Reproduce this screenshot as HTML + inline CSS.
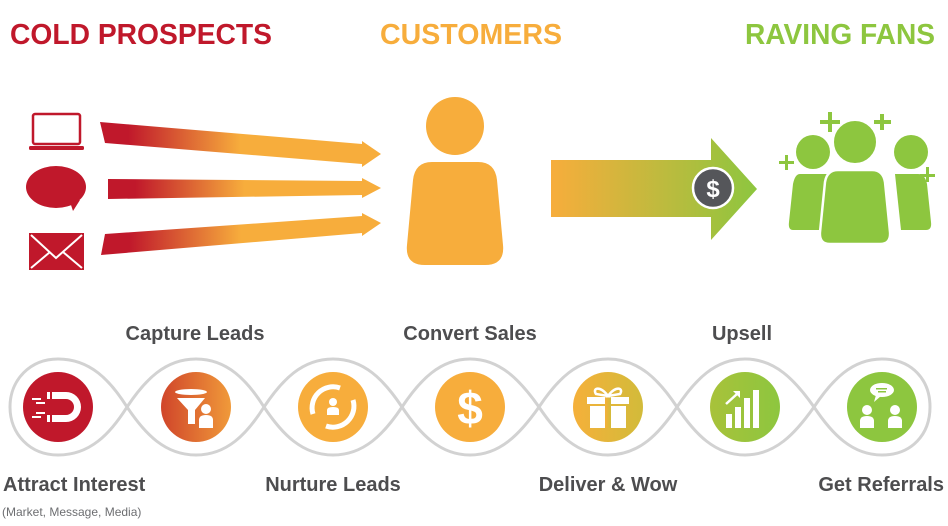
<!DOCTYPE html>
<html><head><meta charset="utf-8"><style>
html,body{margin:0;padding:0;background:#fff;}
svg{display:block;}
text{font-family:"Liberation Sans",Arial,sans-serif;font-weight:bold;}
</style></head><body>
<svg width="948" height="526" viewBox="0 0 948 526" xmlns="http://www.w3.org/2000/svg">
<defs>
<linearGradient id="ar" x1="0" x2="1" y1="0" y2="0">
<stop offset="0" stop-color="#c0182b"/><stop offset="0.1" stop-color="#c0182b"/><stop offset="0.5" stop-color="#f7ad3c"/><stop offset="1" stop-color="#f7ad3c"/></linearGradient>
<linearGradient id="big" x1="551" x2="757" y1="0" y2="0" gradientUnits="userSpaceOnUse">
<stop offset="0" stop-color="#f7ad3c"/><stop offset="1" stop-color="#8dc63f"/></linearGradient>
<linearGradient id="c2" x1="0" x2="1"><stop offset="0" stop-color="#d0452a"/><stop offset="1" stop-color="#f09a3a"/></linearGradient>
<linearGradient id="c5" x1="0" x2="1"><stop offset="0" stop-color="#f5b03a"/><stop offset="1" stop-color="#d2bb3a"/></linearGradient>
<linearGradient id="c6" x1="0" x2="1"><stop offset="0" stop-color="#a8c23a"/><stop offset="1" stop-color="#8dc63f"/></linearGradient>
</defs>

<text x="10" y="44" font-size="29" fill="#c0182b" textLength="262" lengthAdjust="spacingAndGlyphs">COLD PROSPECTS</text>
<text x="380" y="44" font-size="29" fill="#f7ad3c" textLength="182" lengthAdjust="spacingAndGlyphs">CUSTOMERS</text>
<text x="745" y="44" font-size="29" fill="#8dc63f" textLength="190" lengthAdjust="spacingAndGlyphs">RAVING FANS</text>

<rect x="33" y="114" width="47" height="30" rx="2" fill="none" stroke="#c0182b" stroke-width="2.5"/>
<rect x="29" y="146" width="55" height="4" rx="1.5" fill="#c0182b"/>
<ellipse cx="56" cy="187" rx="30" ry="21" fill="#c0182b"/>
<path d="M70 202 L80 200 L73 211 Z" fill="#c0182b"/>
<rect x="29" y="233" width="55" height="37" fill="#c0182b"/>
<path d="M31 235 L56 258 L82 235 M31 268 L50 252 M82 268 L63 252" fill="none" stroke="#fff" stroke-width="2"/>

<path d="M100 122 L362 144 L362 141 L381 154 L362 167 L362 164 L105 143 Z" fill="url(#ar)"/>
<path d="M108 179 L362 181 L362 178 L381 188 L362 198 L362 195 L108 199 Z" fill="url(#ar)"/>
<path d="M105 234 L362 216 L362 213 L381 223 L362 236 L362 233 L101 255 Z" fill="url(#ar)"/>

<circle cx="455" cy="126" r="29" fill="#f7ad3c"/>
<path d="M432 162 L478 162 Q495 162 497 180 L503 245 Q505 265 485 265 L425 265 Q405 265 407 245 L413 180 Q415 162 432 162 Z" fill="#f7ad3c"/>

<path d="M551 160 L711 160 L711 138 L757 189 L711 240 L711 217 L551 217 Z" fill="url(#big)"/>
<circle cx="713" cy="188" r="20" fill="#55565a" stroke="#fff" stroke-width="2.5"/>
<text x="713" y="197" font-size="24" fill="#fff" text-anchor="middle">$</text>

<g fill="#8dc63f">
<circle cx="813" cy="152" r="17"/>
<circle cx="911" cy="152" r="17"/>
<path d="M800 174 L828 174 L822 230 L793 230 Q788 230 789 222 L793 184 Q795 174 800 174 Z"/>
<path d="M895 174 L918 174 Q925 174 927 184 L931 222 Q932 230 926 230 L901 230 Z"/>
<circle cx="855" cy="142" r="22" fill="#8dc63f" stroke="#fff" stroke-width="2"/>
<path d="M838 170 L872 170 Q883 170 885 182 L890 232 Q891 244 880 244 L830 244 Q819 244 820 232 L825 182 Q827 170 838 170 Z" stroke="#fff" stroke-width="2.5"/>
<rect x="820" y="120" width="20" height="4"/><rect x="828" y="112" width="4" height="20"/>
<rect x="874" y="120" width="17" height="4"/><rect x="880" y="114" width="4" height="16"/>
<rect x="779" y="161" width="15" height="3"/><rect x="785" y="155" width="3" height="15"/>
<rect x="920" y="174" width="15" height="3"/><rect x="926" y="167" width="3" height="15"/>
</g>

<g font-size="20" fill="#4d4d4f" text-anchor="middle">
<text x="195" y="340">Capture Leads</text>
<text x="470" y="340">Convert Sales</text>
<text x="742" y="340">Upsell</text>
</g>

<g fill="none" stroke="#d2d2d2" stroke-width="3">
<path d="M127 407 C110 380 90 359 58 359 C30 359 10 380 10 407 C10 434 30 455 58 455 C90 455 110 434 127 407"/>
<path d="M127 407 C145 380 165 359 196 359 C227 359 247 380 264 407 C282 380 302 359 333 359 C364 359 384 380 402 407 C420 380 440 359 470 359 C500 359 520 380 539 407 C557 380 577 359 608 359 C639 359 659 380 677 407 C695 380 715 359 745 359 C775 359 795 380 814 407 C832 380 852 359 882 359 C912 359 930 380 930 407 C930 434 912 455 882 455 C852 455 832 434 814 407 C795 434 775 455 745 455 C715 455 695 434 677 407 C659 434 639 455 608 455 C577 455 557 434 539 407 C520 434 500 455 470 455 C440 455 420 434 402 407 C384 434 364 455 333 455 C302 455 282 434 264 407 C247 434 227 455 196 455 C165 455 145 434 127 407"/>
</g>

<circle cx="58" cy="407" r="35" fill="#c0182b"/>
<path d="M52 392 L66 392 A15 15 0 0 1 66 422 L52 422 L52 415 L66 415 A8 8 0 0 0 66 399 L52 399 Z" fill="#fff"/>
<rect x="47" y="392" width="3" height="7" fill="#fff"/><rect x="47" y="415" width="3" height="7" fill="#fff"/>
<rect x="32" y="398" width="9" height="2" fill="#fff"/><rect x="36" y="402" width="9" height="2" fill="#fff"/>
<rect x="32" y="416" width="9" height="2" fill="#fff"/><rect x="36" y="412" width="9" height="2" fill="#fff"/>

<circle cx="196" cy="407" r="35" fill="url(#c2)"/>
<ellipse cx="191" cy="392" rx="16" ry="3" fill="#fff"/>
<path d="M177 398 L205 398 L195 410 L195 424 L188 424 L188 410 Z" fill="#fff"/>
<circle cx="206" cy="409" r="5" fill="#fff"/><path d="M199 428 L199 420 Q199 415 206 415 Q213 415 213 420 L213 428 Z" fill="#fff"/>

<circle cx="333" cy="407" r="35" fill="#f7ad3c"/>
<path d="M313 414 A21 21 0 0 1 340 388" fill="none" stroke="#fff" stroke-width="5"/>
<path d="M353 400 A21 21 0 0 1 326 426" fill="none" stroke="#fff" stroke-width="5"/>
<circle cx="333" cy="402" r="4" fill="#fff"/><path d="M327 415 L327 410 Q327 407 333 407 Q339 407 339 410 L339 415 Z" fill="#fff"/>

<circle cx="470" cy="407" r="35" fill="#f7ad3c"/>
<text x="470" y="424" font-size="46" fill="#fff" text-anchor="middle">$</text>

<circle cx="608" cy="407" r="35" fill="url(#c5)"/>
<rect x="587" y="397" width="42" height="7" fill="#fff"/>
<rect x="590" y="406" width="36" height="22" fill="#fff"/>
<rect x="605" y="397" width="6" height="31" fill="url(#c5)"/>
<path d="M608 396 C600 385 592 388 596 394 Z M608 396 C616 385 624 388 620 394 Z" fill="none" stroke="#fff" stroke-width="2.5"/>

<circle cx="745" cy="407" r="35" fill="url(#c6)"/>
<rect x="726" y="414" width="6" height="14" fill="#fff"/><rect x="735" y="407" width="6" height="21" fill="#fff"/>
<rect x="744" y="398" width="6" height="30" fill="#fff"/><rect x="753" y="390" width="6" height="38" fill="#fff"/>
<path d="M726 404 L737 394" stroke="#fff" stroke-width="2.5"/><path d="M733 391 L740 391 L740 398 Z" fill="#fff"/>

<circle cx="882" cy="407" r="35" fill="#8dc63f"/>
<ellipse cx="882" cy="390" rx="12" ry="7" fill="#fff"/><path d="M876 395 L874 402 L881 396 Z" fill="#fff"/>
<rect x="876" y="388" width="11" height="1.5" fill="#8dc63f"/><rect x="878" y="391" width="8" height="1.5" fill="#8dc63f"/>
<circle cx="867" cy="410" r="5" fill="#fff"/><path d="M860 428 L860 421 Q860 416 867 416 Q874 416 874 421 L874 428 Z" fill="#fff"/>
<circle cx="895" cy="410" r="5" fill="#fff"/><path d="M888 428 L888 421 Q888 416 895 416 Q902 416 902 421 L902 428 Z" fill="#fff"/>

<g font-size="20" fill="#4d4d4f">
<text x="3" y="491">Attract Interest</text>
<text x="333" y="491" text-anchor="middle">Nurture Leads</text>
<text x="608" y="491" text-anchor="middle">Deliver &amp; Wow</text>
<text x="944" y="491" text-anchor="end">Get Referrals</text>
</g>
<text x="2" y="516" font-size="12" fill="#6d6e71" style="font-weight:normal">(Market, Message, Media)</text>
</svg>
</body></html>
